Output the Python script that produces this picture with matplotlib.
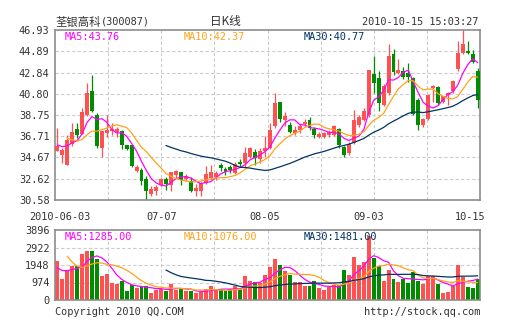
import numpy as np
import pandas as pd
import matplotlib
matplotlib.use("Agg")
import matplotlib.pyplot as plt
from matplotlib.transforms import blended_transform_factory

# daily bars, 2010-06-03 .. 2010-10-15
opens = [35.32, 34.91, 33.95, 35.95, 37.42, 36.95, 38.75, 41.10, 38.75, 35.60,
         37.00, 37.20, 37.15, 37.18, 35.84, 35.84, 33.40, 33.50, 32.63, 31.19,
         31.41, 32.05, 32.63, 31.99, 32.95, 33.27, 32.63, 32.40, 31.40, 31.48,
         32.18, 32.66, 32.76, 33.95, 33.60, 33.75, 33.21, 34.27, 34.11, 34.75,
         35.16, 34.49, 35.29, 35.55, 37.70, 40.04, 38.27, 37.79, 37.06, 37.31,
         37.89, 38.27, 37.38, 36.61, 36.60, 36.85, 36.80, 37.38, 35.71, 35.13,
         36.09, 37.79, 38.27, 38.80, 42.70, 42.28, 39.72, 40.84, 44.62, 42.83,
         42.99, 42.83, 42.28, 40.20, 37.79, 38.37, 41.32, 41.42, 40.04, 40.68,
         41.06, 43.14, 44.68, 44.91, 44.59, 42.99]
highs = [37.50, 35.60, 36.80, 38.00, 37.95, 39.45, 41.85, 42.60, 38.90, 37.25,
         38.75, 38.00, 37.60, 37.30, 35.90, 35.90, 33.95, 33.66, 32.86, 31.89,
         32.00, 32.70, 32.76, 33.30, 33.50, 33.30, 33.08, 32.75, 32.10, 32.30,
         33.85, 33.90, 33.40, 34.10, 33.80, 33.95, 34.27, 34.50, 35.70, 35.70,
         35.45, 35.55, 36.70, 37.95, 40.90, 40.04, 39.08, 38.10, 37.70, 37.95,
         38.34, 38.59, 37.63, 37.15, 37.10, 37.30, 37.80, 37.50, 35.80, 36.20,
         39.23, 38.80, 39.40, 43.10, 44.46, 42.99, 41.70, 45.60, 45.10, 44.10,
         43.40, 43.80, 42.40, 40.40, 38.50, 40.70, 41.60, 41.50, 40.60, 40.95,
         42.10, 45.90, 46.93, 45.90, 45.00, 43.30]
lows = [35.30, 34.15, 33.95, 35.80, 36.50, 36.90, 38.70, 39.00, 35.60, 34.75,
        36.60, 36.80, 36.60, 35.50, 35.40, 33.80, 33.30, 32.05, 30.58, 30.93,
        31.10, 31.90, 31.57, 31.48, 32.70, 31.99, 32.40, 31.35, 30.95, 31.00,
        32.10, 32.60, 32.50, 33.40, 33.00, 33.20, 33.10, 33.80, 33.80, 34.60,
        33.95, 34.10, 34.70, 35.50, 37.50, 38.10, 37.70, 36.99, 36.83, 37.00,
        37.70, 37.30, 36.50, 36.50, 36.50, 36.60, 36.70, 35.60, 34.75, 34.95,
        36.00, 37.60, 38.20, 38.60, 40.90, 39.17, 39.60, 40.70, 42.60, 42.70,
        42.20, 41.96, 38.75, 37.31, 37.60, 38.30, 40.00, 39.70, 39.90, 39.70,
        40.90, 43.00, 44.60, 44.60, 43.80, 39.40]
closes = [35.74, 35.39, 36.35, 37.15, 36.82, 39.05, 40.90, 39.10, 35.75, 37.20,
          37.30, 37.45, 37.40, 35.90, 35.51, 33.88, 33.72, 32.44, 31.48, 31.64,
          31.80, 32.63, 32.12, 33.27, 33.34, 32.54, 32.86, 31.45, 31.75, 32.18,
          33.05, 33.30, 33.20, 33.69, 33.30, 33.50, 34.04, 34.04, 35.07, 35.61,
          34.59, 35.29, 35.61, 37.31, 39.94, 38.34, 38.69, 37.15, 37.31, 37.70,
          38.11, 37.47, 36.83, 36.93, 37.00, 37.10, 37.65, 35.87, 34.91, 35.97,
          38.27, 38.59, 39.17, 43.08, 41.80, 39.88, 41.54, 44.43, 42.92, 43.08,
          42.44, 42.44, 38.82, 37.79, 38.34, 40.68, 41.54, 39.94, 40.58, 40.90,
          42.02, 44.68, 45.58, 44.68, 43.88, 40.20]
volumes = [2189, 1187, 1632, 1911, 1911, 2560, 2745, 2745, 2300, 1354,
           1465, 965, 909, 1039, 519, 816, 649, 742, 798, 408,
           575, 631, 519, 890, 575, 612, 482, 482, 390, 427,
           612, 760, 575, 612, 482, 612, 798, 612, 1354, 1039,
           983, 946, 1410, 1818, 2282, 1948, 1595, 1410, 983, 1002,
           798, 798, 1039, 668, 575, 700, 816, 816, 1670, 1373,
           2393, 1929, 2096, 3580, 2337, 1874, 1039, 1670, 1169, 983,
           1169, 946, 1540, 1076, 890, 1354, 1354, 890, 390, 464,
           800, 1966, 1261, 723, 668, 1169]

# the sessions just before the window, only used to seed the averages
pre_closes = [38.6, 38.0, 37.4, 36.2, 35.9, 35.7, 35.8]
pre_volumes = [5200, 4100, 3276, 1900, 1650, 1600, 1566]

date_ticks = [0, 21, 42, 63, 85]
date_labels = ["2010-06-03", "07-07", "08-05", "09-03", "10-15"]
price_ticks = [30.58, 32.62, 34.67, 36.71, 38.75, 40.80, 42.84, 44.89, 46.93]
vol_ticks = [0, 974, 1948, 2922, 3896]

RED = "#ff5151"
GREEN = "#008c00"
MA_COLORS = {5: "#ff00ff", 10: "#ffa31a", 30: "#003366"}
TEXT = "#333333"
GRID = "#cccccc"
MONO = ["DejaVu Sans Mono", "Noto Sans CJK SC"]
CJK = ["Noto Sans CJK SC", "DejaVu Sans Mono"]
FS = 7.1

W, H = 505, 330


def box(l, t, r, b):
    return [l / W, 1 - b / H, (r - l) / W, (b - t) / H]


def moving_averages(seed, values):
    s = pd.Series(list(seed) + list(values), dtype=float)
    n = len(seed)
    return {w: s.rolling(w).mean().values[n:] for w in (5, 10, 30)}


o = np.array(opens)
h = np.array(highs)
l = np.array(lows)
c = np.array(closes)
v = np.array(volumes)
x = np.arange(len(c))
colors = np.where(c >= o, RED, GREEN)

fig = plt.figure(figsize=(W / 100, H / 100), dpi=100)
ax = fig.add_axes(box(55, 30, 480, 200))
axv = fig.add_axes(box(55, 230, 480, 300))

for a, ticks in ((ax, price_ticks), (axv, vol_ticks)):
    a.set_xlim(-0.5, len(c) - 0.5)
    a.set_ylim(ticks[0], ticks[-1])
    a.set_yticks(ticks)
    a.set_xticks([])
    for y in ticks[1:-1]:
        a.axhline(y, color=GRID, lw=0.8, dashes=(3, 2), zorder=0)
    for k in range(1, 8):
        a.axvline(-0.5 + len(c) * k / 8, color=GRID, lw=0.8, dashes=(3, 2), zorder=0)
    for sp in a.spines.values():
        sp.set_color("#8c8c8c")
        sp.set_linewidth(1.2)
    a.tick_params(axis="y", length=0, pad=4, labelsize=FS + 0.3, labelcolor=TEXT)
    for t in a.get_yticklabels():
        t.set_family(MONO)

ax.set_yticklabels(["%.2f" % t for t in price_ticks])
axv.set_yticklabels([str(t) for t in vol_ticks])

# candlesticks
ax.vlines(x, l, h, colors=colors, lw=0.9, zorder=2)
ax.bar(x, np.maximum(np.abs(c - o), 0.06), bottom=np.minimum(o, c),
       width=0.8, color=colors, lw=0, zorder=3)

# volume bars
axv.bar(x, v, width=0.8, color=colors, lw=0, zorder=2)

# moving averages of price and volume
for a, seed, vals in ((ax, pre_closes, c), (axv, pre_volumes, v)):
    for w, ma in moving_averages(seed, vals).items():
        a.plot(x, ma, color=MA_COLORS[w], lw=0.9, zorder=4)

legend_main = ["MA5:43.76", "MA10:42.37", "MA30:40.77"]
legend_vol = ["MA5:1285.00", "MA10:1076.00", "MA30:1481.00"]
for a, labels in ((ax, legend_main), (axv, legend_vol)):
    for (w, col), txt, px in zip(MA_COLORS.items(), labels, (65, 184, 304)):
        a.text((px - 55) / 425, 1 - 7 / (a.bbox.height), txt, transform=a.transAxes,
               color=col, fontsize=FS + 0.3, family=MONO, va="center", ha="left", zorder=5)

# date labels under the price panel
tr = blended_transform_factory(ax.transData, ax.transAxes)
for i, lab in zip(date_ticks, date_labels):
    ha = "right" if i == date_ticks[-1] else "center"
    xi = i + 1.5 if ha == "right" else i + 0.5 if i == 0 else i
    ax.text(xi, -17 / 170, lab, transform=tr, ha=ha, va="center",
            fontsize=FS + 0.3, family=MONO, color=TEXT)

# header and footer
fig.text(55 / W, 1 - 22 / H, "荃银高科", fontsize=8.2,
         family=CJK, color=TEXT, va="center", ha="left")
fig.text(101 / W, 1 - 22 / H, "(300087)", fontsize=FS + 0.3,
         family=MONO, color=TEXT, va="center", ha="left")
fig.text(225 / W, 1 - 22 / H, "日K线", fontsize=8.4,
         family=CJK, color=TEXT, va="center", ha="center")
fig.text(478 / W, 1 - 22 / H, "2010-10-15 15:03:27", fontsize=FS + 0.3,
         family=MONO, color=TEXT, va="center", ha="right")
fig.text(55 / W, 1 - 312 / H, "Copyright 2010 QQ.COM", fontsize=FS + 0.3,
         family=MONO, color=TEXT, va="center", ha="left")
fig.text(480 / W, 1 - 312 / H, "http://stock.qq.com", fontsize=FS + 0.3,
         family=MONO, color=TEXT, va="center", ha="right")

fig.savefig("out.png", dpi=100, facecolor="white")
